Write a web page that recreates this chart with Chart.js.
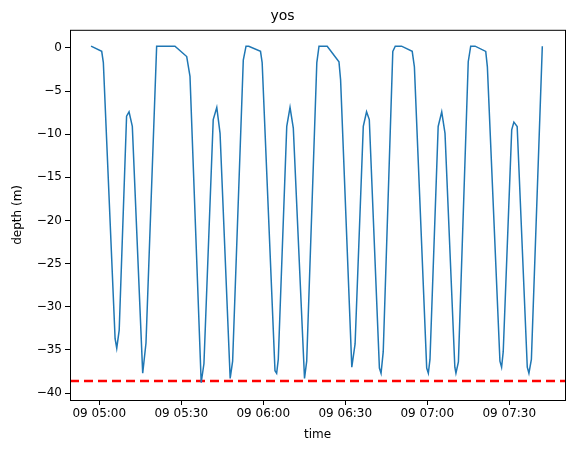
<!DOCTYPE html>
<html><head><meta charset="utf-8">
<script src="https://cdn.jsdelivr.net/npm/chart.js@4"></script>
<style>body{margin:0;background:#fff}#wrap{width:574px;height:453px}</style>
</head><body><div id="wrap"><canvas id="c"></canvas></div>
<script>
// minutes after 09 05:00
const minutes = [-3.0,0.9,1.5,5.8,6.4,7.3,10.0,10.9,12.1,15.9,17.1,21.0,27.7,32.0,33.2,37.3,38.3,41.7,43.0,44.2,47.9,48.8,52.7,53.7,54.7,59.0,59.6,64.3,64.9,65.5,68.6,69.8,71.0,75.1,75.9,79.6,80.4,83.4,87.7,88.3,92.4,93.6,96.6,97.8,98.8,102.5,103.1,103.9,107.4,108.3,110.6,114.5,115.3,119.8,120.4,121.0,124.0,125.3,126.5,130.1,130.5,131.4,135.0,135.9,137.5,141.4,142.0,146.6,147.2,147.8,150.9,151.7,152.9,156.6,157.2,158.1,162.1];
const depth = [0.2,-0.4,-1.7,-33.7,-34.8,-32.7,-7.9,-7.4,-9.1,-37.7,-34.2,0.2,0.2,-1.0,-3.3,-38.8,-36.6,-8.3,-6.9,-9.9,-38.3,-36.3,-1.4,0.2,0.2,-0.4,-1.7,-37.4,-37.7,-36.1,-9.1,-6.9,-9.3,-38.3,-36.3,-1.7,0.2,0.2,-1.6,-3.7,-37.0,-34.3,-9.1,-7.4,-8.3,-37.1,-37.7,-35.2,-0.4,0.2,0.2,-0.4,-2.2,-37.1,-37.7,-36.1,-9.1,-7.4,-9.9,-37.0,-37.7,-36.4,-1.6,0.2,0.2,-0.4,-2.2,-36.3,-37.0,-35.2,-9.5,-8.6,-9.1,-37.0,-37.7,-36.1,0.2];
const threshold = -38.6;
const xMin = -10.7, xMax = 170.4;

const pts = minutes.map((m, i) => ({x: m, y: depth[i]}));
const fmt = v => {
  const t = 5 * 60 + v;
  const h = Math.floor(t / 60), mm = Math.round(t % 60);
  return '09 ' + String(h).padStart(2, '0') + ':' + String(mm).padStart(2, '0');
};
const boxPlugin = {
  id: 'box',
  afterDraw(chart) {
    const a = chart.chartArea, ctx = chart.ctx;
    ctx.save(); ctx.strokeStyle = '#000'; ctx.lineWidth = 1;
    ctx.strokeRect(a.left + 0.5, a.top + 0.5, a.right - a.left, a.bottom - a.top);
    ctx.restore();
  }
};
const tickFont = {family: 'DejaVu Sans', size: 12};
new Chart(document.getElementById('c'), {
  type: 'line',
  data: {
    datasets: [
      {data: pts, borderColor: '#1f77b4', borderWidth: 1.5, pointRadius: 0, tension: 0},
      {data: [{x: xMin, y: threshold}, {x: xMax, y: threshold}], borderColor: '#ff0000', borderWidth: 2.5, borderDash: [9, 5], pointRadius: 0}
    ]
  },
  options: {
    responsive: true, maintainAspectRatio: false, animation: false,
    layout: {padding: {left: 0, right: 9, top: 0, bottom: 0}},
    plugins: {
      legend: {display: false}, tooltip: {enabled: false},
      title: {display: true, text: 'yos', color: '#000', font: {family: 'DejaVu Sans', size: 14, weight: 'normal'}, padding: {top: 8, bottom: 5}}
    },
    scales: {
      x: {
        type: 'linear', min: xMin, max: xMax,
        afterBuildTicks: s => { s.ticks = [0, 30, 60, 90, 120, 150].map(v => ({value: v})); },
        afterFit: s => { s.height = 53; },
        grid: {drawOnChartArea: false, tickLength: 5, color: '#000'},
        border: {display: false},
        ticks: {color: '#000', font: tickFont, maxRotation: 0, callback: fmt, padding: 2},
        title: {display: true, text: 'time', color: '#000', font: tickFont, padding: {top: 0, bottom: 11}}
      },
      y: {
        min: -40.8, max: 2.1,
        afterBuildTicks: s => { s.ticks = [0, -5, -10, -15, -20, -25, -30, -35, -40].map(v => ({value: v})); },
        afterFit: s => { s.width = 70; },
        grid: {drawOnChartArea: false, tickLength: 5, color: '#000'},
        border: {display: false},
        ticks: {color: '#000', font: tickFont, callback: v => v < 0 ? '\u2212' + Math.abs(v) : v, padding: 3},
        title: {display: true, text: 'depth (m)', color: '#000', font: tickFont, padding: {top: 11, bottom: 0}}
      }
    }
  },
  plugins: [boxPlugin]
});
</script></body></html>
